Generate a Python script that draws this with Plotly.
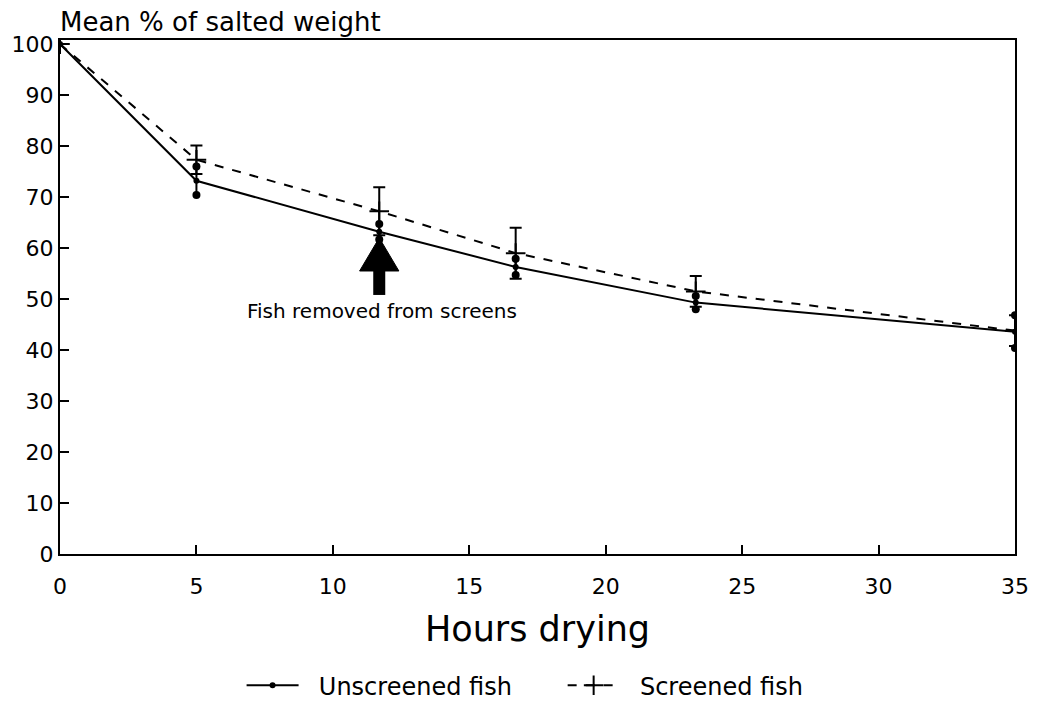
import plotly.graph_objects as go

# ---- data ----
hours = [0, 5, 11.7, 16.7, 23.3, 35]
unscreened_mean = [100, 73.2, 63.2, 56.3, 49.3, 43.6]
unscreened_err = [0, 2.8, 1.5, 1.6, 1.3, 3.2]
screened_mean = [100, 77.3, 67.2, 59.0, 51.5, 43.8]
screened_err = [0, 2.8, 4.7, 5.0, 3.0, 3.0]

x_ticks = [0, 5, 10, 15, 20, 25, 30, 35]
y_ticks = [0, 10, 20, 30, 40, 50, 60, 70, 80, 90, 100]

arrow_x = 11.7
arrow_tip = 62.0
arrow_head_base = 55.5
arrow_stem_end = 50.8
arrow_label = "Fish removed from screens"

FONT = "DejaVu Sans"
NB = "\u00a0"

fig = go.Figure()

# screened (dashed) with + markers and flat caps
fig.add_trace(go.Scatter(
    x=hours, y=screened_mean, mode="lines+markers", name=NB * 2 + "Screened fish",
    line=dict(color="black", width=2, dash="dash"),
    marker=dict(symbol="cross-thin", size=14, line=dict(color="black", width=2), color="black"),
    error_y=dict(type="data", array=screened_err, width=6, thickness=2, color="black"),
))

# unscreened (solid) with dot ends
fig.add_trace(go.Scatter(
    x=hours, y=unscreened_mean, mode="lines+markers",
    name=NB * 2 + "Unscreened fish" + NB * 6,
    line=dict(color="black", width=2),
    marker=dict(symbol="circle", size=6, color="black"),
    error_y=dict(type="data", array=unscreened_err, width=0, thickness=2, color="black"),
))
ends_x = [h for h, e in zip(hours, unscreened_err) if e > 0] * 2
ends_y = ([m + e for m, e in zip(unscreened_mean, unscreened_err) if e > 0]
          + [m - e for m, e in zip(unscreened_mean, unscreened_err) if e > 0])
fig.add_trace(go.Scatter(
    x=ends_x, y=ends_y, mode="markers", showlegend=False, hoverinfo="skip",
    marker=dict(symbol="circle", size=8, color="black"),
))

# arrow: triangle head + stem
fig.add_shape(type="path", xref="x", yref="y",
              path=f"M {arrow_x-0.72},{arrow_head_base} L {arrow_x},{arrow_tip} L {arrow_x+0.72},{arrow_head_base} Z",
              fillcolor="black", line=dict(color="black", width=1))
fig.add_shape(type="rect", xref="x", yref="y",
              x0=arrow_x - 0.22, x1=arrow_x + 0.22, y0=arrow_stem_end, y1=arrow_head_base,
              fillcolor="black", line=dict(color="black", width=0))
fig.add_annotation(x=arrow_x + 0.1, y=arrow_stem_end, xref="x", yref="y",
                   text=arrow_label, showarrow=False, yanchor="top", yshift=-2,
                   font=dict(family=FONT, size=20, color="black"))

# y title at top-left
fig.add_annotation(x=0, y=1, xref="paper", yref="paper", xanchor="left", yanchor="bottom",
                   xshift=-2, yshift=1, text="Mean % of salted weight", showarrow=False,
                   font=dict(family=FONT, size=26, color="black"))

fig.update_xaxes(range=[0, 35], tickvals=x_ticks, ticks="inside", ticklen=9,
                 tickcolor="black", tickwidth=1.5, showgrid=False, zeroline=False,
                 showline=True, linecolor="black", linewidth=2, mirror=True,
                 tickfont=dict(family=FONT, size=22, color="black"),
                 ticklabelstandoff=12, automargin=False,
                 title=dict(text="Hours drying", font=dict(family=FONT, size=35, color="black"),
                            standoff=18))
fig.update_yaxes(range=[0, 100.8], tickvals=y_ticks, ticks="inside", ticklen=9,
                 tickcolor="black", tickwidth=1.5, showgrid=False, zeroline=False,
                 showline=True, linecolor="black", linewidth=2, mirror=True,
                 tickfont=dict(family=FONT, size=22, color="black"),
                 ticklabelstandoff=0, automargin=False)

fig.update_layout(
    width=1038, height=712,
    margin=dict(l=52, r=31, t=32, b=164),
    plot_bgcolor="white", paper_bgcolor="white",
    showlegend=True,
    legend=dict(orientation="h", x=0.487, xanchor="center", y=-0.256, yanchor="middle",
                traceorder="reversed",
                font=dict(family=FONT, size=24, color="black"), itemwidth=52),
)

fig.write_html("out.html")
